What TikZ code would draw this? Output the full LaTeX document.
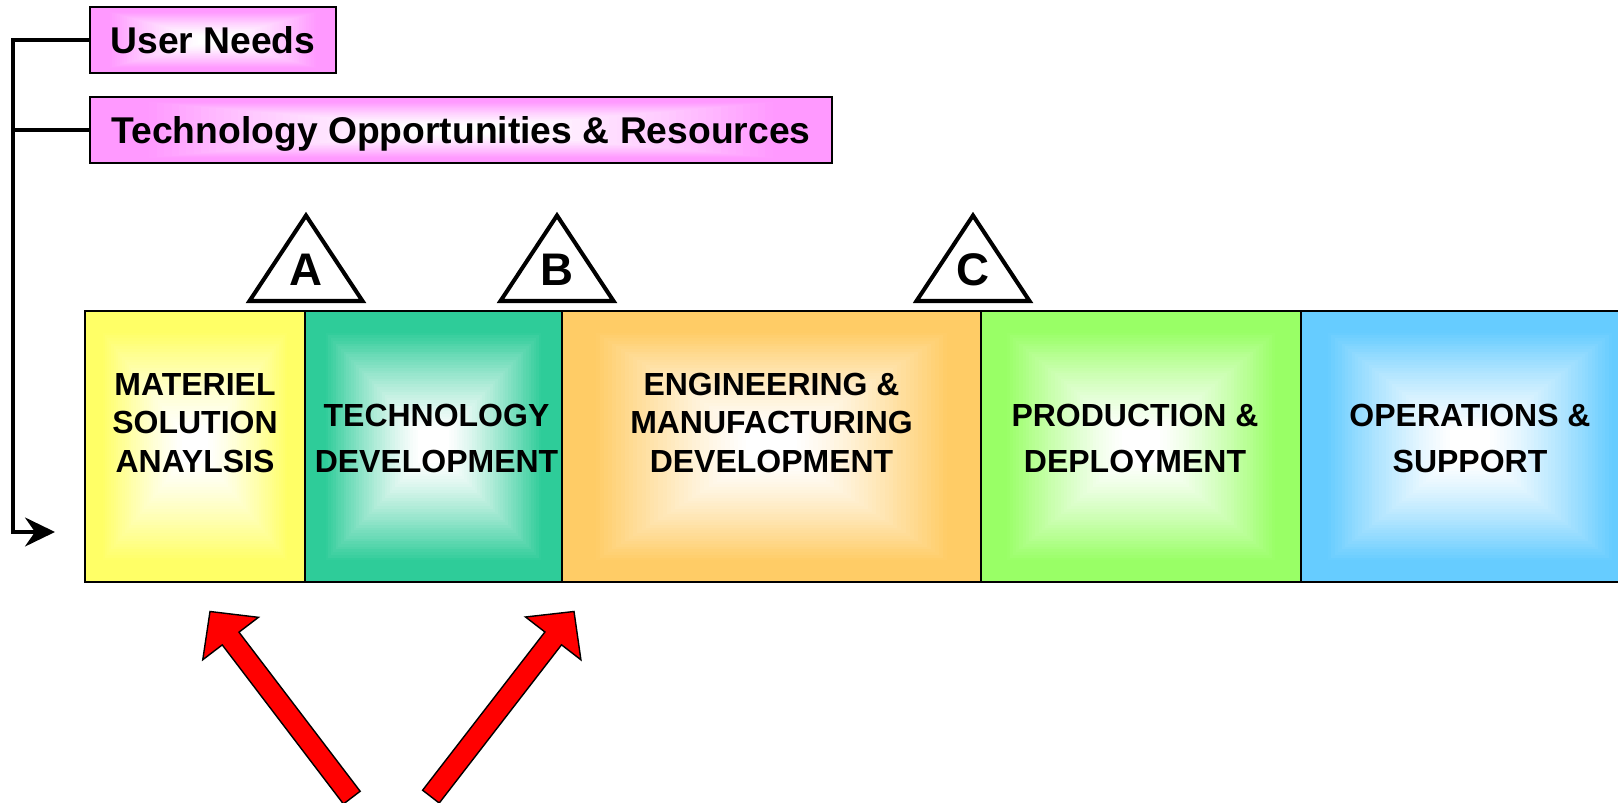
\documentclass[tikz,border=0pt]{standalone}
\usepackage{fontspec}
\setmainfont{Liberation Sans}
\usetikzlibrary{positioning,arrows.meta,calc}

\definecolor{needpink}{HTML}{FF99FF}
\definecolor{msayellow}{HTML}{FFFF66}
\definecolor{tdgreen}{HTML}{2ECC99}
\definecolor{emdorange}{HTML}{FFCC66}
\definecolor{pdgreen}{HTML}{99FF66}
\definecolor{osblue}{HTML}{66CCFF}

% box filled from its edges towards a white centre (nested rectangles)
\tikzset{
  glow/.style={fill=#1, path picture={
      \foreach \s in {1,0.98,...,0.02} {
        \pgfmathsetmacro\shadet{min(1,max(0.001,(\s-0.1)/0.75))}
        \pgfmathtruncatemacro\shadepct{100*\shadet^1.3}
        \fill[#1!\shadepct!white] ($(path picture bounding box.center)!\s!(path picture bounding box.north west)$) rectangle ($(path picture bounding box.center)!\s!(path picture bounding box.south east)$);
      }
  }}
}

\begin{document}
\begin{tikzpicture}[need/.style={glow=needpink,draw,line width=0.8pt,minimum height=1.32cm,outer sep=0pt,text depth=0pt,font=\fontsize{21.2}{25}\selectfont\bfseries},
      phase/.style={glow=#1,draw,line width=1.1pt,minimum height=5.42cm,inner sep=0pt,outer sep=0pt},
      phase text/.style={align=center,anchor=south,inner sep=0pt,font=\fontsize{18.2}{#1}\selectfont\bfseries},
      milestone/.style={line width=2.3pt,fill=white},
      milestone text/.style={font=\fontsize{26}{30}\selectfont\bfseries},
      link/.style={line width=2pt},
      pointer/.style={fill=red,draw=black,line width=0.8pt}]

    \useasboundingbox (0,0) rectangle (32.36,16.06);

    \node[need, minimum width=4.92cm] (needs) at (4.26,15.26) {User Needs};
    \node[need, minimum width=14.84cm, below=0.48cm of needs.south west, anchor=north west] (techopp) {Technology Opportunities \& Resources};

    % acquisition phases
    \node[phase=msayellow, minimum width=4.40cm, anchor=south west] (msa) at (1.70,4.42) {};
    \foreach \n/\p/\w/\c in {td/msa/5.14/tdgreen, emd/td/8.38/emdorange, pd/emd/6.40/pdgreen, os/pd/6.76/osblue} {
      \node[phase=\c, minimum width=\w cm, right=0pt of \p] (\n) {};
    }
    \foreach \n/\dx/\l/\t in {msa/0/21.9pt/{MATERIEL\\SOLUTION\\ANAYLSIS}, td/0.06/26.1pt/{TECHNOLOGY\\DEVELOPMENT}, emd/0/21.9pt/{ENGINEERING \&\\MANUFACTURING\\DEVELOPMENT}, pd/-0.12/26.1pt/{PRODUCTION \&\\DEPLOYMENT}, os/0/26.1pt/{OPERATIONS \&\\SUPPORT}} {
      \node[phase text=\l] (\n-text) at ([xshift=\dx cm, yshift=-0.53cm]\n.center) {\t};
    }

    % inputs feeding the phases
    \coordinate (feed) at (1.10,5.42);
    \draw[link,-{Stealth[length=0.6cm,width=0.58cm,inset=0.2cm]}] (needs.west) -- ++(-1.54,0) |- (feed);
    \draw[link] (techopp.west) -- ++(-1.54,0);

    % milestones
    \foreach \m/\x in {A/6.12, B/11.14, C/19.46} {
      \draw[milestone] (\x-1.13,10.04) -- (\x,11.75) -- (\x+1.13,10.04) -- cycle;
      \node[milestone text] (gate\m) at (\x,10.66) {\m};
    }

    % entry points
    \foreach \x/\a in {4.20/127.3, 11.48/52.3} {
      \draw[pointer, shift={(\x,3.83)}, rotate=\a] (0,0) -- (-0.68,0.70) -- (-0.68,0.21) -- (-4.68,0.21) -- (-4.68,-0.21) -- (-0.68,-0.21) -- (-0.68,-0.70) -- cycle;
    }

\end{tikzpicture}
\end{document}
